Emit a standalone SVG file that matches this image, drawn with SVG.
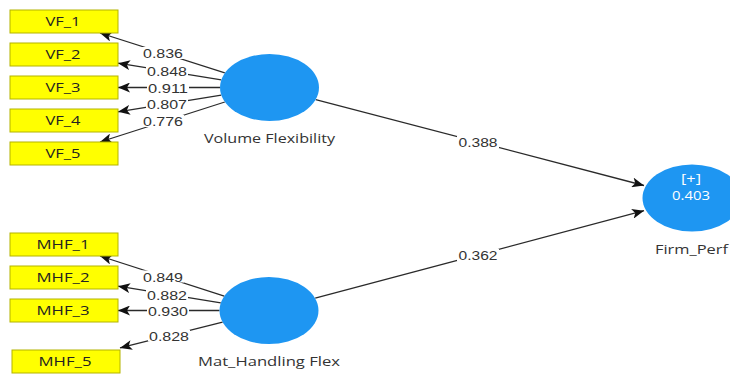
<svg xmlns="http://www.w3.org/2000/svg" width="730" height="375" viewBox="0 0 730 375">
  <style>
    .ind rect { fill: #FFFF00; stroke: #B4B400; stroke-width: 1; }
    .ind text { font-family: "Open Sans", "Liberation Sans", sans-serif; font-size: 13px; fill: #222; text-anchor: middle; }
    .lv ellipse { fill: #1E96F2; }
    .lv text { font-family: "Open Sans", "Liberation Sans", sans-serif; font-size: 13px; fill: #333; text-anchor: middle; }
    .lv text.in { fill: #FFFFFF; }
    .edge line { stroke: #2A2A2A; stroke-width: 1.3; marker-end: url(#arrow); }
    .w rect { fill: #FFFFFF; }
    .w text { font-family: "Liberation Sans", Arial, sans-serif; font-size: 13px; fill: #333; text-anchor: middle; }
  </style>
  <defs>
    <marker id="arrow" markerUnits="userSpaceOnUse" markerWidth="12" markerHeight="10" viewBox="0 0 12 10" refX="12" refY="5" orient="auto">
      <path d="M0,0 L12,5 L0,10 L3,5 Z" fill="#111"/>
    </marker>
  </defs>
  <rect width="730" height="375" fill="#FFFFFF"/>

  <!-- connectors -->
  <g id="connectors">
    <g class="edge">
      <line x1="224.8" y1="72.9" x2="100" y2="33"/>
      <line x1="221.3" y1="79.8" x2="118" y2="63.2"/>
      <line x1="220" y1="87.5" x2="118" y2="87.5"/>
      <line x1="221.3" y1="95.2" x2="118" y2="111.8"/>
      <line x1="224.8" y1="102" x2="100" y2="142"/>
      <line x1="224.3" y1="296.1" x2="100" y2="256"/>
      <line x1="220.8" y1="302.8" x2="118" y2="286.2"/>
      <line x1="219.5" y1="310.5" x2="118" y2="310.5"/>
      <line x1="222.6" y1="322.2" x2="120" y2="347.9"/>
      <line x1="315.7" y1="99.6" x2="644" y2="185.5"/>
      <line x1="315.2" y1="298.2" x2="644" y2="210.7"/>
    </g>
    <!-- edge weights on white backing -->
    <g class="w">
      <rect x="142" y="47" width="42" height="12"/>
      <text x="163" y="58" textLength="40" lengthAdjust="spacingAndGlyphs">0.836</text>
      <rect x="146" y="65" width="42" height="12"/>
      <text x="167" y="76" textLength="40" lengthAdjust="spacingAndGlyphs">0.848</text>
      <rect x="147" y="82" width="42" height="12"/>
      <text x="168" y="92.5" textLength="40" lengthAdjust="spacingAndGlyphs">0.911</text>
      <rect x="146" y="97.5" width="42" height="12"/>
      <text x="167" y="108.5" textLength="40" lengthAdjust="spacingAndGlyphs">0.807</text>
      <rect x="142" y="115" width="42" height="12"/>
      <text x="163" y="126" textLength="40" lengthAdjust="spacingAndGlyphs">0.776</text>

      <rect x="142" y="270.5" width="42" height="12"/>
      <text x="163" y="281.5" textLength="40" lengthAdjust="spacingAndGlyphs">0.849</text>
      <rect x="146" y="289" width="42" height="12"/>
      <text x="167" y="300" textLength="40" lengthAdjust="spacingAndGlyphs">0.882</text>
      <rect x="147" y="304.5" width="42" height="12"/>
      <text x="168" y="315.5" textLength="40" lengthAdjust="spacingAndGlyphs">0.930</text>
      <rect x="148" y="329.5" width="42" height="12"/>
      <text x="169" y="340.5" textLength="40" lengthAdjust="spacingAndGlyphs">0.828</text>

      <rect x="457" y="136" width="42" height="12"/>
      <text x="478" y="147" textLength="39" lengthAdjust="spacingAndGlyphs">0.388</text>
      <rect x="457" y="249" width="42" height="12"/>
      <text x="478" y="260" textLength="39" lengthAdjust="spacingAndGlyphs">0.362</text>
    </g>
  </g>

  <!-- indicator boxes -->
  <g id="VF_1" class="ind"><rect x="10" y="10" width="108" height="23"/><text x="63" y="26" textLength="35" lengthAdjust="spacingAndGlyphs">VF_1</text></g>
  <g id="VF_2" class="ind"><rect x="10" y="43" width="108" height="23"/><text x="63" y="59" textLength="35" lengthAdjust="spacingAndGlyphs">VF_2</text></g>
  <g id="VF_3" class="ind"><rect x="10" y="76" width="108" height="23"/><text x="63" y="92" textLength="35" lengthAdjust="spacingAndGlyphs">VF_3</text></g>
  <g id="VF_4" class="ind"><rect x="10" y="109" width="108" height="23"/><text x="63" y="125" textLength="35" lengthAdjust="spacingAndGlyphs">VF_4</text></g>
  <g id="VF_5" class="ind"><rect x="10" y="142" width="108" height="23"/><text x="63" y="158" textLength="35" lengthAdjust="spacingAndGlyphs">VF_5</text></g>

  <g id="MHF_1" class="ind"><rect x="10" y="233" width="108" height="23"/><text x="63" y="249" textLength="53" lengthAdjust="spacingAndGlyphs">MHF_1</text></g>
  <g id="MHF_2" class="ind"><rect x="10" y="266" width="108" height="23"/><text x="63" y="282" textLength="53" lengthAdjust="spacingAndGlyphs">MHF_2</text></g>
  <g id="MHF_3" class="ind"><rect x="10" y="299" width="108" height="23"/><text x="63" y="315" textLength="53" lengthAdjust="spacingAndGlyphs">MHF_3</text></g>
  <g id="MHF_5" class="ind"><rect x="12" y="350" width="108" height="23"/><text x="65" y="366" textLength="53" lengthAdjust="spacingAndGlyphs">MHF_5</text></g>

  <!-- latent variables -->
  <g id="Volume_Flexibility" class="lv">
    <ellipse cx="269.5" cy="87.5" rx="49.5" ry="33.5"/>
    <text x="269.5" y="142.5" textLength="131" lengthAdjust="spacingAndGlyphs">Volume Flexibility</text>
  </g>
  <g id="Mat_Handling_Flex" class="lv">
    <ellipse cx="269" cy="310.5" rx="49.5" ry="33.5"/>
    <text x="269" y="365.5" textLength="142" lengthAdjust="spacingAndGlyphs">Mat_Handling Flex</text>
  </g>
  <g id="Firm_Perf" class="lv">
    <ellipse cx="692" cy="198" rx="49.5" ry="33.5"/>
    <text class="in" x="691" y="182.5" textLength="20" lengthAdjust="spacingAndGlyphs">[+]</text>
    <text class="in" x="691" y="199.5" textLength="38" lengthAdjust="spacingAndGlyphs">0.403</text>
    <text x="691.5" y="254" textLength="73" lengthAdjust="spacingAndGlyphs">Firm_Perf</text>
  </g>
</svg>
